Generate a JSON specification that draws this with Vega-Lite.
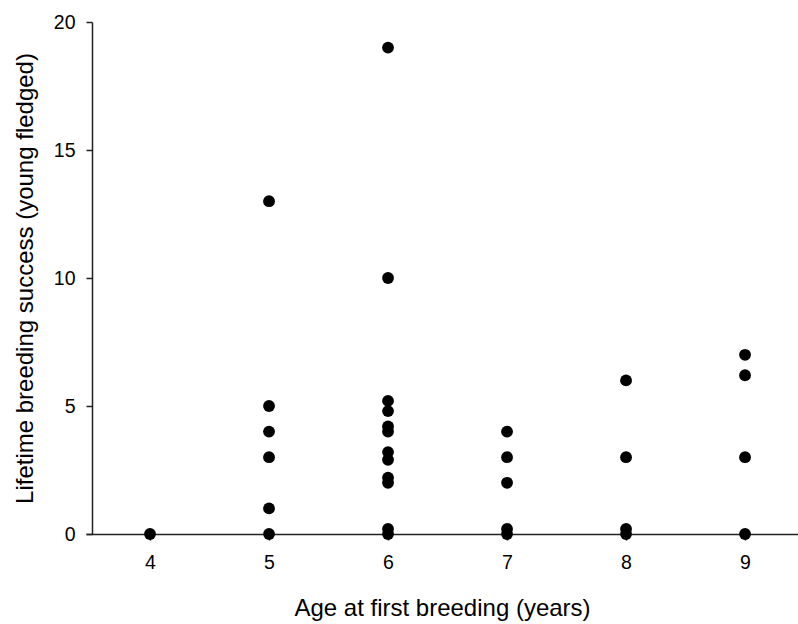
{
  "$schema": "https://vega.github.io/schema/vega-lite/v6.json",
  "autosize": "none",
  "width": 712,
  "height": 512,
  "padding": {"left": 86, "top": 22, "right": 0, "bottom": 90},
  "background": "white",
  "config": {
    "view": {"stroke": null},
    "font": "Liberation Sans",
    "axis": {"grid": false, "domainColor": "#222", "tickColor": "#222", "labelColor": "#000", "titleColor": "#000", "labelFontSize": 19.5, "titleFontSize": 24, "titleFontWeight": "normal", "tickSize": 6, "domainWidth": 1.5, "tickWidth": 1.5}
  },
  "data": {
    "values": [
      {"age": 4, "lbs": 0},
      {"age": 5, "lbs": 13}, {"age": 5, "lbs": 5}, {"age": 5, "lbs": 4}, {"age": 5, "lbs": 3}, {"age": 5, "lbs": 1}, {"age": 5, "lbs": 0},
      {"age": 6, "lbs": 19}, {"age": 6, "lbs": 10}, {"age": 6, "lbs": 5.2}, {"age": 6, "lbs": 4.8}, {"age": 6, "lbs": 4.2}, {"age": 6, "lbs": 4.0}, {"age": 6, "lbs": 3.2}, {"age": 6, "lbs": 2.9}, {"age": 6, "lbs": 2.2}, {"age": 6, "lbs": 2.0}, {"age": 6, "lbs": 0.2}, {"age": 6, "lbs": 0},
      {"age": 7, "lbs": 4}, {"age": 7, "lbs": 3}, {"age": 7, "lbs": 2}, {"age": 7, "lbs": 0.2}, {"age": 7, "lbs": 0},
      {"age": 8, "lbs": 6}, {"age": 8, "lbs": 3}, {"age": 8, "lbs": 0.2}, {"age": 8, "lbs": 0},
      {"age": 9, "lbs": 7}, {"age": 9, "lbs": 6.2}, {"age": 9, "lbs": 3}, {"age": 9, "lbs": 0}
    ]
  },
  "mark": {"type": "circle", "size": 140, "color": "#000", "opacity": 1, "clip": false},
  "encoding": {
    "x": {
      "field": "age", "type": "quantitative",
      "scale": {"domain": [3.462, 9.445], "nice": false, "zero": false},
      "axis": {"title": "Age at first breeding (years)", "values": [4, 5, 6, 7, 8, 9], "labelPadding": 13, "titlePadding": 25}
    },
    "y": {
      "field": "lbs", "type": "quantitative",
      "scale": {"domain": [0, 20], "nice": false},
      "axis": {"title": "Lifetime breeding success (young fledged)", "values": [0, 5, 10, 15, 20], "offset": -6, "labelPadding": 11, "titlePadding": 16}
    }
  }
}
